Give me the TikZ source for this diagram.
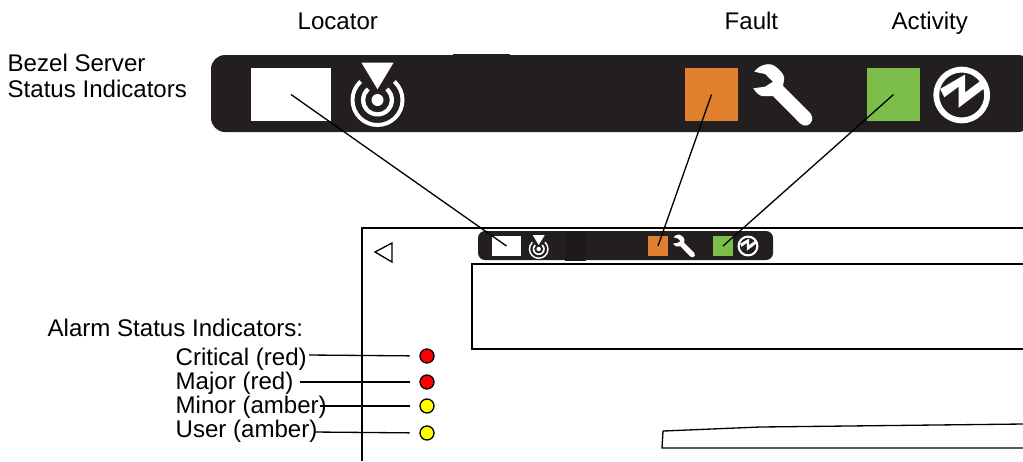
\documentclass[tikz,border=0pt]{standalone}
\usepackage{fontspec}
\setmainfont{Liberation Sans}
\usepackage{tikz}
\usetikzlibrary{positioning}
\definecolor{bezel}{HTML}{231F20}
\definecolor{faultcol}{HTML}{E07F2E}
\definecolor{activitycol}{HTML}{7DBE4B}
\definecolor{ledred}{HTML}{FF0000}
\definecolor{ledamber}{HTML}{FFFF00}

\tikzset{
  locatoricon/.pic={
    \fill[white,even odd rule] (0,0) circle (27) (0,0) circle (23)
      (0,0) circle (16.5) (0,0) circle (12.3);
    \fill[bezel] (0,-2) -- (-37,-39) -- (37,-39) -- cycle;
    \fill[white] (0,0) circle (6);
    \fill[white] (-16,-37.3) -- (16,-37.3) -- (0,-10.7) -- cycle;
  },
  wrenchicon/.pic={
    \fill[white] (-25.7,-23.3) .. controls (-21,-30) and (-10,-34) .. (-3.3,-27.5)
      .. controls (2,-23) and (5,-19) .. (4,-15)
      -- (3,-9) -- (30.5,18.5)
      .. controls (34,23) and (32,29) .. (27,30.5)
      .. controls (24,31) and (22,30) .. (20,28.3)
      -- (-7,1) -- (-18.3,1)
      .. controls (-22,0) and (-25,-4) .. (-26.7,-6.7)
      -- (-15,-8.3) -- (-7,-13.3) -- (-15,-21) -- cycle;
  },
  activityicon/.pic={
    \fill[white,even odd rule] (0,0) circle (28.3) (0,0) circle (22.5);
    \fill[white] (-21.5,-6) -- (3.3,-20.5) -- (3.3,-2.5) -- (18.3,-13.8) -- (22.5,-6.7)
      -- (-3.2,12.8) -- (-3.2,-8.3) -- (-17.4,2.3) -- cycle;
  }
}

\begin{document}
\begin{tikzpicture}[x=0.02cm, y=-0.02cm,
    line width=0.75pt, line cap=butt,
    label/.style={font=\fontsize{13.7}{14.8}\selectfont, inner sep=0pt, anchor=base west, align=left},
    bigbox/.style={minimum width=1.06cm, minimum height=1.06cm, inner sep=0pt},
    smallbox/.style={minimum width=0.4cm, minimum height=0.4cm, inner sep=0pt},
    led/.style={circle, draw=black, minimum size=0.28cm, inner sep=0pt}]
  \useasboundingbox (0,0) rectangle (1023,461);
  \clip (0,0) rectangle (1023,461);

  % top labels
  \node[label] (locatorlabel) at (297,29.5) {Locator};
  \node[label] (faultlabel) at (724,29.5) {Fault};
  \node[label] (activitylabel) at (891,29.5) {Activity};
  \node[label] (bezellabel) at (7,97) {Bezel Server\\Status Indicators};

  % large bezel
  \fill[bezel, rounded corners=8pt] (211,55) rectangle (1032,132);
  \fill[bezel] (453,54) rectangle (510,60);
  \node[bigbox, fill=white, minimum width=1.6cm] (locbig) at (291,94.5) {};
  \node[bigbox, fill=faultcol] (faultbig) at (711.5,94.5) {};
  \node[bigbox, fill=activitycol] (activitybig) at (893.5,94.5) {};
  \pic at (377.5,100) {locatoricon};
  \pic at (780,95) {wrenchicon};
  \pic at (961.7,95) {activityicon};

  % server front
  \draw (1023,228) -- (362,228) -- (362,461);
  \draw (1023,264) -- (472,264) -- (472,349) -- (1023,349);
  \draw (392,243) -- (375,252) -- (392,262) -- cycle;
  \draw (1023,424) -- (760,427) -- (663,431) -- (662,448) -- (1023,448);

  % small bezel
  \fill[bezel, rounded corners=4pt] (478,231) rectangle (773,260);
  \fill[bezel!85!black] (565,230.5) rectangle (586,260.5);
  \node[smallbox, fill=white, minimum width=0.58cm] (locsmall) at (506.5,246) {};
  \node[smallbox, fill=faultcol] (faultsmall) at (658,246) {};
  \node[smallbox, fill=activitycol] (activitysmall) at (723,246) {};
  \pic[scale=0.37] at (538.7,249) {locatoricon};
  \pic[scale=0.37] at (683,246) {wrenchicon};
  \pic[scale=0.37] at (748,246) {activityicon};

  \draw (locbig.center) -- (locsmall.center);
  \draw (faultbig.center) -- (faultsmall.center);
  \draw (activitybig.center) -- (activitysmall.center);

  % alarm indicators
  \node[label] (alarmlabel) at (47,336) {Alarm Status Indicators:};
  \node[label] (criticallabel) at (175,365) {Critical (red)};
  \node[label] (majorlabel) at (175,389) {Major (red)};
  \node[label] (minorlabel) at (175,413) {Minor (amber)};
  \node[label] (userlabel) at (175,437) {User (amber)};

  \node[led, fill=ledred] (critical) at (427,356) {};
  \node[led, fill=ledred] (major) at (427,382) {};
  \node[led, fill=ledamber] (minor) at (427,406) {};
  \node[led, fill=ledamber] (user) at (427,433) {};

  \coordinate (criticalend) at (309,355);
  \coordinate (majorend) at (300,382);
  \coordinate (minorend) at (320,406);
  \coordinate (userend) at (314,432);

  \draw[shorten >=5.5pt] (criticalend) -- (critical);
  \draw[shorten >=5.5pt] (majorend) -- (major);
  \draw[shorten >=5.5pt] (minorend) -- (minor);
  \draw[shorten >=5.5pt] (userend) -- (user);
\end{tikzpicture}
\end{document}
